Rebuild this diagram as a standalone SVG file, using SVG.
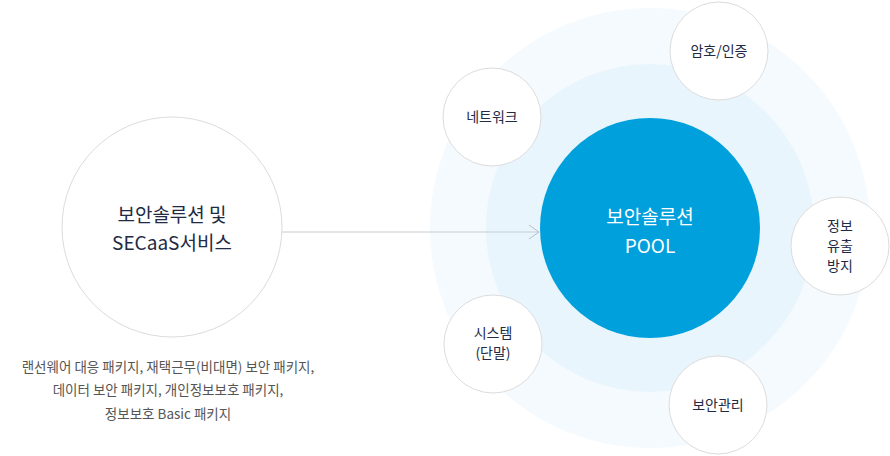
<svg xmlns="http://www.w3.org/2000/svg" width="890" height="456" viewBox="0 0 890 456">
<style>
text{font-family:"Noto Sans CJK KR","Noto Sans",sans-serif;text-anchor:middle}
.sat{fill:#fff;stroke:#dcdcdc;stroke-width:1}
.st{font-size:14px;fill:#222a44}
.desc{font-size:13.5px;fill:#555}
</style>
<defs><marker id="arr" markerWidth="12" markerHeight="16" refX="11" refY="8" orient="auto" markerUnits="userSpaceOnUse"><path d="M1,1 L11,8 L1,15" fill="none" stroke="#b8bec8" stroke-width="1"/></marker></defs>
<g id="bg"><circle cx="650" cy="228" r="220" fill="#f4fafe"/><circle cx="650" cy="228" r="164" fill="#e8f5fc"/></g>
<g id="connectors"><line x1="280" y1="232" x2="539" y2="232" stroke="#c8ccd4" stroke-width="1" marker-end="url(#arr)"/></g>
<g id="left"><circle cx="172" cy="227" r="110" fill="#fff" stroke="#dcdcdc"/>
<text x="172" y="222" font-size="19" fill="#222a44">보안솔루션 및</text>
<text x="172" y="250" font-size="19" fill="#222a44">SECaaS서비스</text></g>
<g id="desc"><text class="desc" x="168" y="372">랜선웨어 대응 패키지, 재택근무(비대면) 보안 패키지,</text>
<text class="desc" x="168" y="395">데이터 보안 패키지, 개인정보보호 패키지,</text>
<text class="desc" x="168" y="419">정보보호  Basic 패키지</text></g>
<g id="pool"><circle cx="650" cy="228" r="110" fill="#00a0dc"/>
<text x="650" y="224" font-size="19" fill="#fff">보안솔루션</text>
<text x="650" y="253" font-size="19" fill="#fff">POOL</text></g>
<g id="n1"><circle class="sat" cx="719" cy="51" r="49"/><text class="st" x="719" y="56">암호/인증</text></g>
<g id="n2"><circle class="sat" cx="492" cy="117" r="49"/><text class="st" x="492" y="122">네트워크</text></g>
<g id="n3"><circle class="sat" cx="840" cy="246" r="49"/><text class="st" x="840" y="231">정보</text><text class="st" x="840" y="251">유출</text><text class="st" x="840" y="271">방지</text></g>
<g id="n4"><circle class="sat" cx="493" cy="344" r="49"/><text class="st" x="493" y="338">시스템</text><text class="st" x="493" y="358">(단말)</text></g>
<g id="n5"><circle class="sat" cx="718" cy="405" r="49"/><text class="st" x="718" y="410">보안관리</text></g>
</svg>
